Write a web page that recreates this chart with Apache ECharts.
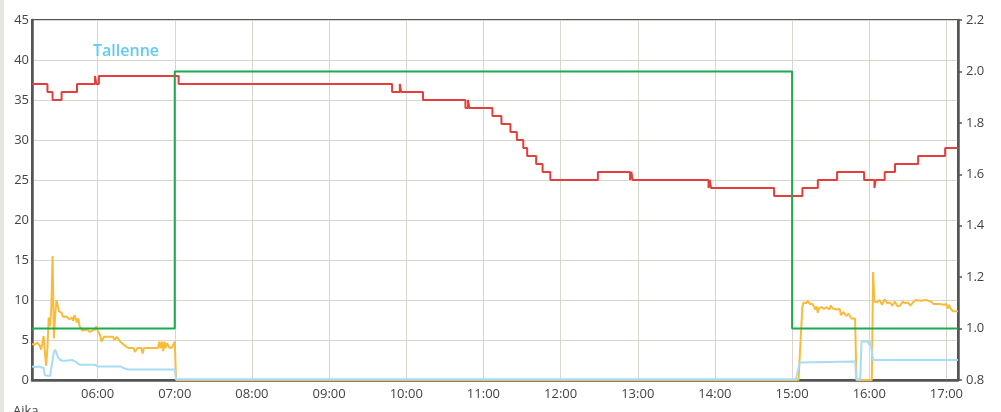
<!DOCTYPE html>
<html><head><meta charset="utf-8">
<script src="https://cdn.jsdelivr.net/npm/echarts@6/dist/echarts.min.js"></script>
<style>html,body{margin:0;padding:0;background:#fff}#c{width:1001px;height:412px}</style>
</head><body><div id="c"></div>
<script>
const titleText = "Tallenne";
const xAxisName = "Aika";
const timeStart = "05:09";
const timeEnd = "17:09";
const leftAxis = { min: 0, max: 45, interval: 5 };
const rightAxis = { min: 0.8, max: 2.2, interval: 0.2 };

// red step series (left axis)
const redSeries = [
  ["05:09",37],["05:21",36],["05:25",35],["05:32",36],["05:44",37],["05:58",38],["05:59",37],["06:01",38],
  ["07:03",37],["09:49",36],["09:55",37],["09:56",36],["10:13",35],["10:46",34],["10:48",35],["10:49",34],
  ["11:07",33],["11:14",32],["11:21",31],["11:26",30],["11:31",29],["11:34",28],["11:41",27],["11:46",26],
  ["11:52",25],["12:29",26],["12:54",25],["12:55",26],["12:56",25],["13:55",24],["13:56",25],["13:57",24],
  ["14:46",23],["15:08",24],["15:20",25],["15:35",26],["15:56",25],["16:04",24],["16:05",25],["16:12",26],
  ["16:20",27],["16:38",28],["16:59",29],["17:09",29]
];

// green step series (right axis)
const greenSeries = [["05:09",1.0],["07:00",2.0],["15:00",1.0],["17:09",1.0]];

// orange series (left axis)
const orangeSeries = [
  ["05:09",4.5],["05:11",4.4],["05:13",4.7],["05:15",4.3],["05:16",3.8],["05:17",4.5],["05:18",5.5],["05:19",3.5],
  ["05:20",1.8],["05:21",4.0],["05:22",7.8],["05:23",6.7],["05:24",9.0],["05:25",15.5],["05:26",5.2],["05:27",8.0],
  ["05:28",10.0],["05:29",9.8],["05:30",8.6],["05:32",8.4],["05:33",7.9],["05:36",7.9],["05:38",7.6],["05:40",7.8],
  ["05:41",7.4],["05:42",8.1],["05:44",7.2],["05:45",7.7],["05:46",6.7],["05:48",6.2],["05:52",6.3],["05:54",6.0],
  ["05:56",6.2],["05:58",6.3],["05:59",6.7],["06:00",6.2],["06:02",5.6],["06:03",4.8],["06:05",5.4],["06:12",5.4],
  ["06:13",5.0],["06:15",5.4],["06:17",4.9],["06:19",4.6],["06:20",4.6],["06:22",4.2],["06:23",4.4],["06:24",4.0],
  ["06:28",4.0],["06:29",3.5],["06:31",4.0],["06:34",4.0],["06:35",3.3],["06:36",4.0],["06:47",4.0],["06:48",4.8],
  ["06:49",4.0],["06:50",4.8],["06:51",3.6],["06:52",4.8],["06:53",4.0],["06:54",4.6],["06:56",4.0],["06:58",4.1],
  ["06:59",4.0],["07:00",4.8],["07:01",0],["15:05",0],["15:08",9.2],["15:09",9.7],["15:11",9.6],["15:12",9.9],
  ["15:13",10.0],["15:14",9.5],["15:16",9.5],["15:18",8.8],["15:19",9.2],["15:20",8.4],["15:21",9.0],["15:23",9.1],
  ["15:25",8.9],["15:27",9.1],["15:28",9.0],["15:29",8.8],["15:30",9.3],["15:32",8.9],["15:35",8.8],["15:37",8.9],
  ["15:38",8.1],["15:40",8.5],["15:42",8.0],["15:44",8.3],["15:46",7.7],["15:49",7.7],["15:50",0],["16:02",0],
  ["16:03",13.5],["16:04",9.8],["16:06",9.7],["16:08",10.0],["16:10",9.4],["16:12",10.1],["16:14",9.6],["16:16",9.7],
  ["16:18",9.3],["16:20",9.8],["16:22",9.2],["16:24",9.3],["16:26",9.8],["16:28",9.6],["16:30",9.7],["16:32",9.3],
  ["16:34",9.7],["16:36",10.0],["16:40",9.9],["16:44",10.0],["16:48",9.8],["16:50",9.5],["16:55",9.5],["16:58",9.4],
  ["17:00",9.5],["17:01",8.9],["17:02",9.4],["17:03",9.0],["17:05",8.6],["17:09",8.6]
];

// light blue series (left axis)
const blueSeries = [
  ["05:09",1.7],["05:12",1.6],["05:14",1.7],["05:16",1.6],["05:17",1.7],["05:18",1.5],["05:19",0.6],["05:20",0.5],
  ["05:23",0.5],["05:24",1.5],["05:26",3.5],["05:27",3.8],["05:28",3.4],["05:29",2.9],["05:31",2.5],["05:33",2.4],
  ["05:35",2.4],["05:40",2.5],["05:43",2.3],["05:45",2.0],["05:47",1.9],["05:58",1.9],["06:00",1.7],["06:18",1.7],
  ["06:20",1.5],["06:24",1.3],["07:00",1.3],["07:01",0.1],["15:03",0.1],["15:06",2.2],["15:49",2.3],["15:50",0.1],
  ["15:53",0.1],["15:54",4.8],["15:59",4.8],["16:00",4.4],["16:01",4.8],["16:02",4.8],["16:03",2.5],["16:11",2.5],
  ["16:12",2.3],["16:13",2.5],["17:09",2.5]
];

function ts(s) { const p = s.split(':').map(Number); return new Date(2024, 0, 15, p[0], p[1]).getTime(); }
function toPts(arr) { return arr.map(d => [ts(d[0]), d[1]]); }
function pad(n) { return (n < 10 ? '0' : '') + n; }

const FONT = "'Open Sans', 'Noto Sans', sans-serif";
const chart = echarts.init(document.getElementById('c'), null, { renderer: 'canvas' });
chart.setOption({
  animation: false,
  backgroundColor: '#ffffff',
  title: { text: titleText, left: 88, top: 38, textStyle: { color: '#62caf2', fontSize: 16, fontWeight: 600, fontFamily: FONT } },
  grid: { left: 32, right: 43, top: 20, bottom: 32, show: true, borderColor: '#555', borderWidth: 2, backgroundColor: 'transparent' },
  xAxis: {
    type: 'time', min: ts(timeStart), max: ts(timeEnd), splitNumber: 12,
    minInterval: 3600000, maxInterval: 3600000,
    axisLine: { show: true, lineStyle: { color: '#555', width: 2.5 } },
    axisTick: { show: false },
    splitLine: { show: true, lineStyle: { color: '#d9d6d0', width: 1 } },
    axisLabel: { color: '#444', fontSize: 13, fontFamily: FONT, margin: 8,
      formatter: function (v) { const d = new Date(v); return pad(d.getHours()) + ':' + pad(d.getMinutes()); } }
  },
  yAxis: [
    { type: 'value', min: leftAxis.min, max: leftAxis.max, interval: leftAxis.interval, position: 'left',
      axisLine: { show: true, lineStyle: { color: '#555', width: 2.5 } },
      axisTick: { show: false },
      splitLine: { show: true, lineStyle: { color: '#d9d6d0', width: 1 } },
      axisLabel: { color: '#444', fontSize: 13, fontFamily: FONT, margin: 3 } },
    { type: 'value', min: rightAxis.min, max: rightAxis.max, interval: rightAxis.interval, position: 'right',
      axisLine: { show: true, lineStyle: { color: '#555', width: 2.5 } },
      axisTick: { show: true, length: 4, lineStyle: { color: '#555', width: 1.5 } },
      splitLine: { show: false },
      axisLabel: { color: '#444', fontSize: 13, fontFamily: FONT, margin: 8, formatter: v => v.toFixed(1) } }
  ],
  graphic: [
    { type: 'rect', left: 0, top: 0, shape: { width: 4, height: 412 }, style: { fill: '#e6e5e1' } },
    { type: 'text', left: 13, top: 405, style: { text: xAxisName, fill: '#444', fontSize: 13, fontFamily: FONT } }
  ],
  series: [
    { name: 'orange', type: 'line', yAxisIndex: 0, data: toPts(orangeSeries), showSymbol: false, symbol: 'none',
      lineStyle: { color: '#f8bb3b', width: 2 }, itemStyle: { color: '#f8bb3b' } },
    { name: 'blue', type: 'line', yAxisIndex: 0, data: toPts(blueSeries), showSymbol: false, symbol: 'none',
      lineStyle: { color: '#a8dcf5', width: 2 }, itemStyle: { color: '#a8dcf5' } },
    { name: 'red', type: 'line', yAxisIndex: 0, step: 'end', data: toPts(redSeries), showSymbol: false, symbol: 'none',
      lineStyle: { color: '#e3403d', width: 2 }, itemStyle: { color: '#e3403d' } },
    { name: 'green', type: 'line', yAxisIndex: 1, step: 'end', data: toPts(greenSeries), showSymbol: false, symbol: 'none',
      lineStyle: { color: '#1daa4f', width: 2 }, itemStyle: { color: '#1daa4f' } }
  ]
});
</script></body></html>
